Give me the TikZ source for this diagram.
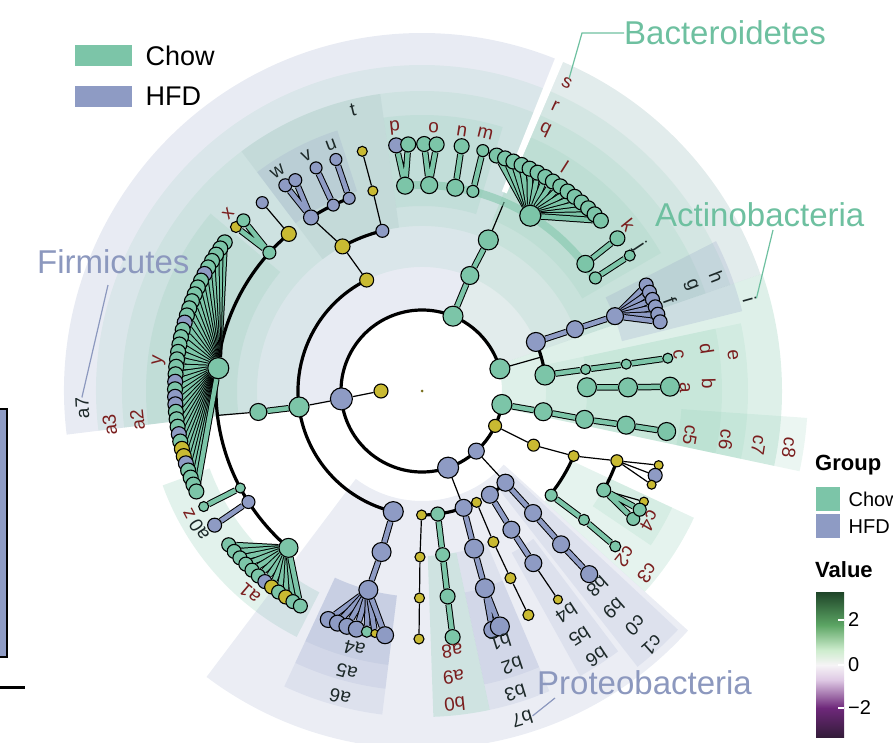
\documentclass[tikz,border=0pt]{standalone}
\usepackage{fontspec}
\setmainfont{Liberation Sans}
\usetikzlibrary{positioning}
\definecolor{chow}{RGB}{124,197,168}
\definecolor{hfd}{RGB}{142,155,196}
\definecolor{ylw}{RGB}{201,186,50}
\definecolor{labred}{RGB}{122,30,30}
\definecolor{labdark}{RGB}{28,40,40}
\definecolor{chowtxt}{RGB}{110,192,160}
\definecolor{hfdtxt}{RGB}{140,152,190}
\definecolor{bacgray}{RGB}{150,185,185}
\definecolor{cbA}{RGB}{30,68,40}
\definecolor{cbB}{RGB}{92,165,100}
\definecolor{cbC}{RGB}{205,236,205}
\definecolor{cbD}{RGB}{246,244,246}
\definecolor{cbE}{RGB}{222,200,228}
\definecolor{cbF}{RGB}{110,40,122}
\definecolor{cbG}{RGB}{52,28,58}
\pgfdeclarelayer{bg}
\pgfdeclarelayer{edges}
\pgfsetlayers{bg,edges,main}
% annular clade sector: from, to, inner r, outer r, colour, opacity
\newcommand\hilite[6]{%
  \fill[#5, fill opacity=#6] (#1:#3) arc[start angle=#1, end angle=#2, radius=#3]
    -- (#2:#4) arc[start angle=#2, end angle=#1, radius=#4] -- cycle;}
% tree node: name, colour, size, angle, radius
\newcommand\taxon[5]{%
  \node[tnode, fill=#2, minimum size=#3pt] (#1) at (#4:#5) {};}

\begin{document}
\begin{tikzpicture}[x=1pt, y=1pt,
  tnode/.style={circle, draw=black, line width=1.1pt, inner sep=0pt},
  thinl/.style={line width=1.2pt},
  arcl/.style={line width=3.2pt},
  famarc/.style={line width=8pt, draw=chow, draw opacity=.55},
  cbar/.style={line width=1pt, double=chow, double distance=4.5pt},
  hbar/.style={line width=1pt, double=hfd, double distance=4.5pt},
  lab/.style={font=\fontsize{19}{19}\selectfont, inner sep=0pt},
  phylum/.style={font=\fontsize{33}{33}\selectfont, anchor=west, inner sep=0pt},
  key/.style={inner sep=0pt, anchor=north west}]
\useasboundingbox (0,0) rectangle (893,-743);

\begin{scope}[shift={(422,-391)}]
  % clade highlights
  \begin{pgfonlayer}{bg}
  \foreach \ta/\tb/\ri/\ro/\col/\op in {
      67.5/187/80/358/hfd/.2, 67.5/187/124/326/chow/.13, 67.5/187/165/300/chow/.13,
      98/127/165/300/bacgray/.18, 108/127/210/274/hfd/.18, 140/187/185/276/chow/.16,
      73/98/185/276/chow/.14, 200/243/226/276/chow/.22,
      19/67.5/80/358/bacgray/.28, 19/67.5/124/326/chow/.13, 19/67.5/165/300/chow/.13,
      30/67.5/185/276/chow/.13,
      -12/19/80/360/chow/.25, -12/12/124/326/chow/.12, -12/12/165/300/chow/.12,
      14/27/206/330/hfd/.22, -12/-4/260/386/chow/.15,
      233/318/110/358/hfd/.18, 245/263/206/326/hfd/.14, 245/263/206/300/hfd/.14,
      245/263/206/276/hfd/.14, 272/282/165/326/chow/.25, 282/293/165/326/hfd/.14,
      282/293/206/300/hfd/.14, 299/307/185/326/hfd/.14, 308/317/124/350/hfd/.14,
      318/335/165/300/chow/.2, 326/335/206/276/chow/.14}
    \hilite{\ta}{\tb}{\ri}{\ro}{\col}{\op};
  \hilite{66.8}{68.2}{215}{360}{white}{1}
  \end{pgfonlayer}

  % root and phyla
  \node[circle, fill=ylw!60!black, inner sep=0pt, minimum size=3pt] (root) at (0,0) {};
  \taxon{k0}{ylw}{14}{180}{41}
  \taxon{fir}{hfd}{22}{185.6}{81}
  \taxon{bac}{chow}{20}{67.5}{81}
  \taxon{act}{chow}{20}{15.9}{81}
  \taxon{actb}{chow}{20}{-9.6}{81}
  \taxon{pro1}{ylw}{13}{-25.5}{81}
  \taxon{pro2}{hfd}{16}{-47.9}{81}
  \taxon{pro3}{hfd}{21}{-71.2}{81}

  % Firmicutes side
  \taxon{fcl}{chow}{20}{187.4}{124}
  \taxon{ford}{chow}{17}{187.3}{165}
  \taxon{ty1}{ylw}{14}{116.5}{124}
  \taxon{ty2}{ylw}{15}{118.8}{165}
  \taxon{th1}{hfd}{13}{103.9}{165}
  \taxon{ty3}{ylw}{10}{103.8}{206}
  \taxon{ty4}{ylw}{10}{104}{247}
  \taxon{tw}{hfd}{15}{122.6}{206}
  \taxon{tv}{hfd}{12}{115.5}{206}
  \taxon{tu}{hfd}{12}{110.7}{206}
  \taxon{w1}{hfd}{13}{123.6}{247}
  \taxon{w2}{hfd}{13}{121}{246}
  \taxon{v1}{hfd}{12}{115.4}{247}
  \taxon{u1}{hfd}{12}{110.4}{247}
  \taxon{xy}{ylw}{15}{130.3}{206}
  \taxon{xg}{chow}{13}{137.8}{206}
  \taxon{x1}{ylw}{11}{138.6}{248}
  \taxon{x2}{chow}{13}{136.3}{247}
  \taxon{xh}{hfd}{12}{130.3}{247}
  \taxon{yc}{chow}{21}{173.6}{205}
  \foreach \col [count=\i] in {chow,chow,chow,chow,chow,hfd,chow,chow,chow,chow,chow,chow,
      hfd,chow,chow,chow,chow,chow,chow,chow,hfd,chow,hfd,hfd,chow,chow,chow,hfd,chow,
      ylw,ylw,hfd,chow,chow,chow,chow}
    {\pgfmathsetmacro\ang{143+1.743*(\i-1)}\taxon{fy\i}{\col}{15}{\ang}{247}}
  \taxon{zc}{chow}{10}{208.1}{206}
  \taxon{a0c}{hfd}{13}{212.6}{206}
  \taxon{a1c}{chow}{19}{229.6}{206}
  \taxon{z1}{chow}{10}{207.9}{247}
  \taxon{a01}{hfd}{14}{212.9}{247}
  \foreach \col [count=\i] in {chow,chow,chow,chow,chow,chow,hfd,ylw,chow,ylw,chow,chow}
    {\pgfmathsetmacro\ang{218.5+2*(\i-1)}\taxon{fa\i}{\col}{14}{\ang}{247}}
  \taxon{a6n}{hfd}{20}{256.6}{124}
  \taxon{a5n}{hfd}{19}{255.9}{166}
  \taxon{a4n}{hfd}{19}{254.9}{206}
  \foreach \ang/\col/\sz [count=\i] in {247.7/hfd/16, 250/hfd/16, 252.3/hfd/16,
      254.6/hfd/16, 257.1/chow/11, 259/ylw/8, 261.4/hfd/17}
    {\taxon{fb\i}{\col}{\sz}{\ang}{247}}

  % Bacteroidetes
  \taxon{bc1}{chow}{18}{67.5}{125}
  \taxon{bc2}{chow}{20}{66.3}{165}
  \taxon{bp}{chow}{17}{94.7}{206}
  \taxon{bo}{chow}{17}{88}{206}
  \taxon{bn}{chow}{17}{80.7}{206}
  \taxon{bm}{chow}{12}{75.7}{206}
  \taxon{bl}{chow}{21}{58.3}{206}
  \taxon{bk}{chow}{17}{37.9}{207}
  \taxon{bj}{chow}{12}{33.1}{207}
  \taxon{p1}{hfd}{15}{96}{247}
  \taxon{p2}{chow}{15}{93.2}{247}
  \taxon{o1}{chow}{15}{89.5}{247}
  \taxon{o2}{chow}{15}{86.6}{247}
  \taxon{n1}{chow}{15}{80.8}{248}
  \taxon{m1}{chow}{12}{75.8}{248}
  \taxon{k1}{chow}{15}{38}{248}
  \taxon{j1}{chow}{11}{33.1}{248}
  \foreach \i in {1,...,15}
    {\pgfmathsetmacro\ang{72.4-2.057*(\i-1)}\taxon{fl\i}{chow}{15}{\ang}{247}}

  % Actinobacteria
  \taxon{af}{hfd}{19}{23.3}{124}
  \taxon{af2}{hfd}{17}{22}{165}
  \taxon{af3}{hfd}{17}{21.2}{207}
  \foreach \i in {1,...,6}
    {\pgfmathsetmacro\ang{25.3-1.82*(\i-1)}\taxon{ff\i}{hfd}{14}{\ang}{248}}
  \taxon{ac}{chow}{20}{7.4}{124}
  \taxon{ac2}{chow}{10}{7.5}{165}
  \taxon{ac3}{chow}{10}{7.5}{206}
  \taxon{ac4}{chow}{10}{7.6}{248}
  \taxon{aa2}{chow}{19}{1.3}{165}
  \taxon{aa3}{chow}{19}{1}{206}
  \taxon{aa4}{chow}{19}{1}{248}
  \taxon{cb1}{chow}{18}{-9.7}{123}
  \taxon{cb2}{chow}{18}{-9.9}{165}
  \taxon{cb3}{chow}{18}{-9.5}{207}
  \taxon{cb4}{chow}{18}{-9.4}{248}

  % Proteobacteria and the rest
  \taxon{pb}{hfd}{17}{-70.4}{124}
  \taxon{py1}{ylw}{10}{-90.2}{124}
  \taxon{py2}{ylw}{10}{-90.7}{166}
  \taxon{py3}{ylw}{10}{-90.7}{207}
  \taxon{py4}{ylw}{10}{-90.7}{248}
  \taxon{pg1}{chow}{14}{-82.7}{124}
  \taxon{pg2}{chow}{14}{-82.8}{165}
  \taxon{pg3}{chow}{15}{-82.9}{207}
  \taxon{pg4}{chow}{15}{-82.9}{248}
  \taxon{pb2}{hfd}{19}{-71.7}{166}
  \taxon{pb3}{hfd}{19}{-72.3}{207}
  \taxon{pb5}{hfd}{17}{-73.6}{249}
  \taxon{pb4}{hfd}{19}{-71.7}{248}
  \taxon{pyy1}{ylw}{10}{-63.9}{124}
  \taxon{pyy2}{ylw}{11}{-64.7}{167}
  \taxon{pyy3}{ylw}{11}{-64.7}{207}
  \taxon{pyy4}{ylw}{11}{-64.6}{248}
  \taxon{pc}{hfd}{17}{-56.8}{124}
  \taxon{pc2}{hfd}{17}{-57.2}{165}
  \taxon{pc3}{hfd}{17}{-57.1}{205}
  \taxon{pc4}{ylw}{9}{-56.9}{249}
  \taxon{pd}{hfd}{17}{-47.7}{124}
  \taxon{pd2}{hfd}{17}{-47.7}{165}
  \taxon{pd3}{hfd}{17}{-47.8}{207}
  \taxon{pd4}{hfd}{17}{-47.6}{248}
  \taxon{q1}{ylw}{12}{-25.9}{124}
  \taxon{q2}{ylw}{11}{-23.2}{165}
  \taxon{q3}{ylw}{12}{-19.7}{207}
  \taxon{q4}{chow}{12}{-38.9}{166}
  \taxon{q5}{chow}{11}{-38.5}{207}
  \taxon{q6}{chow}{11}{-38.8}{248}
  \taxon{q7}{chow}{14}{-28.6}{207}
  \taxon{qr1}{ylw}{9}{-17.4}{248}
  \taxon{qr2}{hfd}{14}{-19.9}{248}
  \taxon{qr3}{ylw}{9}{-22.2}{248}
  \taxon{qs1}{ylw}{9}{-26.5}{248}
  \taxon{qs3}{chow}{13}{-31.2}{247}
  \taxon{qs2}{chow}{13}{-28.6}{248}

  % branches
  \begin{pgfonlayer}{edges}
  \draw[arcl] (act.center) arc[start angle=15.9, end angle=350.4, radius=81];
  \draw[thinl] (k0) -- (fir) -- (fcl);
  \draw[cbar] (fcl) -- (ford);
  \draw[arcl] (ty1.center) arc[start angle=116.5, end angle=256.6, radius=124];
  \draw[thinl] (ford) -- (186.8:206);
  \draw[arcl] (xy.center) arc[start angle=130.3, end angle=229.6, radius=206];
  \draw[thinl] (ty1) -- (ty2) -- (tw);
  \draw[arcl] (ty2.center) arc[start angle=118.8, end angle=103.9, radius=165];
  \draw[thinl] (th1) -- (ty3) -- (ty4);
  \draw[arcl] (tw.center) arc[start angle=122.6, end angle=110.7, radius=206];
  \draw[hbar] (tw) -- (w1) (tw) -- (w2) (tv) -- (v1) (tu) -- (u1);
  \draw[cbar] (xg) -- (x1) (xg) -- (x2);
  \draw[thinl] (xy) -- (xh);
  \foreach \i in {1,...,36} \draw[cbar] (yc) -- (fy\i);
  \draw[cbar] (zc) -- (z1);
  \draw[hbar] (a0c) -- (a01);
  \foreach \i in {1,...,12} \draw[cbar] (a1c) -- (fa\i);
  \draw[hbar] (a6n) -- (a5n) -- (a4n);
  \foreach \i in {1,...,7} \draw[hbar] (a4n) -- (fb\i);

  \draw[cbar] (bac) -- (bc1) -- (bc2);
  \draw[thinl] (bc2) -- (66.5:206);
  \draw[famarc] (bp.center) arc[start angle=94.7, end angle=33.1, radius=206];
  \draw[cbar] (bp) -- (p1) (bp) -- (p2) (bo) -- (o1) (bo) -- (o2) (bn) -- (n1)
    (bm) -- (m1) (bk) -- (k1) (bj) -- (j1);
  \foreach \i in {1,...,15} \draw[cbar] (bl) -- (fl\i);

  \draw[thinl] (act) -- (15.9:124);
  \draw[arcl] (af.center) arc[start angle=23.3, end angle=7.4, radius=124];
  \draw[hbar] (af) -- (af2) -- (af3);
  \foreach \i in {1,...,6} \draw[hbar] (af3) -- (ff\i);
  \draw[cbar] (ac) -- (ac2) -- (ac3) -- (ac4);
  \draw[cbar] (aa2) -- (aa3) -- (aa4);
  \draw[cbar] (actb) -- (cb1) -- (cb2) -- (cb3) -- (cb4);

  \draw[thinl] (pro3) -- (pb);
  \draw[arcl] (py1.center) arc[start angle=-90.2, end angle=-63.9, radius=124];
  \draw[thinl] (py1) -- (py2) -- (py3) -- (py4);
  \draw[cbar] (pg1) -- (pg2) -- (pg3) -- (pg4);
  \draw[hbar] (pb) -- (pb2) -- (pb3) -- (pb4) (pb3) -- (pb5);
  \draw[thinl] (pyy1) -- (pyy2) -- (pyy3) -- (pyy4);
  \draw[thinl] (pro2) -- (pd);
  \draw[arcl] (pc.center) arc[start angle=-56.8, end angle=-47.7, radius=124];
  \draw[hbar] (pc) -- (pc2) -- (pc3);
  \draw[thinl] (pc3) -- (pc4);
  \draw[hbar] (pd) -- (pd2) -- (pd3) -- (pd4);
  \draw[thinl] (pro1) -- (q1) -- (q2) -- (q3);
  \draw[arcl] (q2.center) arc[start angle=-23.2, end angle=-38.9, radius=165];
  \draw[cbar] (q4) -- (q5) -- (q6);
  \draw[arcl] (q3.center) arc[start angle=-19.7, end angle=-28.6, radius=207];
  \draw[thinl] (q3) -- (qr1) (q3) -- (qr2) (q3) -- (qr3) (q7) -- (qs1);
  \draw[cbar] (q7) -- (qs2) (q7) -- (qs3);
  \end{pgfonlayer}

  % clade letters
  \foreach \ang/\rad/\txt in {95.9/265/p, 87.5/264/o, 81.3/263/n, 76.2/265/m,
      64.8/289/q, 64.9/314/r, 64.8/340/s, 57.5/266/l, 38.8/265/k, 8/259/c,
      8.5/288/d, 6.6/313/e, 0.8/263/a, 1.5/287/b, -9.3/272/c5, -9.1/308/c6,
      -9.1/341/c7, -8.8/372/c8, -29.7/262/c4, -39.2/262/c2, -39/290/c3,
      -83.4/262/a8, -83.7/288/a9, -84/315/b0, 229.6/266/a1, 207.7/263/z,
      173.3/265/y, 185.8/286/a2, 186.2/314/a3, 137.5/263/x}
    \node[lab, text=labred, rotate=\ang-90] (lab\txt) at (\ang:\rad) {\txt};
  \foreach \ang/\rad/\txt in {33.6/261/j, 21.1/316/h, 21.5/289/g, 20/264/f,
      15.5/340/i, -48.2/263/b8, -48.6/290/b9, -47.7/317/c0, -47.9/343/c1,
      -57/265/b4, -57.3/292/b5, -56.7/318/b6, -72.6/263/b1, -71.8/289/b2,
      -72.8/316/b3, -73/343/b7, 255.3/266/a4, 255/291/a5, 255/317/a6,
      212/263/a0, 182.9/340/a7, 123.3/263/w, 116.2/262/v, 110.3/262/u,
      103.8/289/t}
    \node[lab, text=labdark, rotate=\ang-90] (lab\txt) at (\ang:\rad) {\txt};
\end{scope}

% phylum names
\node[phylum, text=hfdtxt] (firm) at (37,-262) {Firmicutes};
\node[phylum, text=chowtxt] (bact) at (624,-33) {Bacteroidetes};
\node[phylum, text=chowtxt] (actino) at (655,-215) {Actinobacteria};
\node[phylum, text=hfdtxt] (proteo) at (537,-683) {Proteobacteria};
\coordinate (firmA) at (108,-285);
\coordinate (actinoA) at (773,-230);
\coordinate (proteoA) at (555,-698);
\draw[hfdtxt, line width=1.2pt] (firmA) -- (laba7.east);
\draw[chowtxt, line width=1.2pt] (bact.west) -- (582,-33) -- (labs.north);
\draw[chowtxt, line width=1.2pt] (actinoA) -- (labi.north);
\draw[hfdtxt, line width=1.2pt] (proteoA) -- (labb7.west);

% group key, top left
\node[key, fill=chow, minimum width=57pt, minimum height=21pt] (chowkey) at (75,-45) {};
\node[key, fill=hfd, minimum width=57pt, minimum height=21pt] (hfdkey) at (75,-86) {};
\node[right=13pt of chowkey, inner sep=0pt, font=\fontsize{27}{27}\selectfont] (chowname) {Chow};
\node[right=13pt of hfdkey, inner sep=0pt, font=\fontsize{27}{27}\selectfont] (hfdname) {HFD};

% right legend
\node[anchor=west, inner sep=0pt, font=\bfseries\fontsize{22}{22}\selectfont] (grouphead) at (815,-465) {Group};
\node[key, fill=chow, minimum width=24pt, minimum height=24pt] (chowbox) at (816,-487) {};
\node[key, fill=hfd, minimum width=24pt, minimum height=24pt] (hfdbox) at (816,-514) {};
\node[right=8pt of chowbox, inner sep=0pt, font=\fontsize{20}{20}\selectfont] (chowlab) {Chow};
\node[right=8pt of hfdbox, inner sep=0pt, font=\fontsize{20}{20}\selectfont] (hfdlab) {HFD};
\node[anchor=west, inner sep=0pt, font=\bfseries\fontsize{22}{22}\selectfont] (valuehead) at (815,-570) {Value};
\shade[top color=cbA, bottom color=cbB] (816,-592) rectangle (844,-625);
\shade[top color=cbB, bottom color=cbC] (816,-625) rectangle (844,-650);
\shade[top color=cbC, bottom color=cbD] (816,-650) rectangle (844,-665);
\shade[top color=cbD, bottom color=cbE] (816,-665) rectangle (844,-680);
\shade[top color=cbE, bottom color=cbF] (816,-680) rectangle (844,-708);
\shade[top color=cbF, bottom color=cbG] (816,-708) rectangle (844,-737);
\foreach \v/\y in {2/620, 0/665, −2/708} {
  \draw[white, line width=1.2pt] (838,-\y) -- (844,-\y);
  \node[anchor=west, inner sep=0pt, font=\fontsize{20}{20}\selectfont] (tick\y) at (848,-\y) {\v};
}

% edges of the neighbouring panels
\draw[line width=2pt, fill=hfd] (-4,-409) rectangle (7,-657);
\draw[line width=3pt] (0,-687) -- (25,-687);
\end{tikzpicture}
\end{document}
